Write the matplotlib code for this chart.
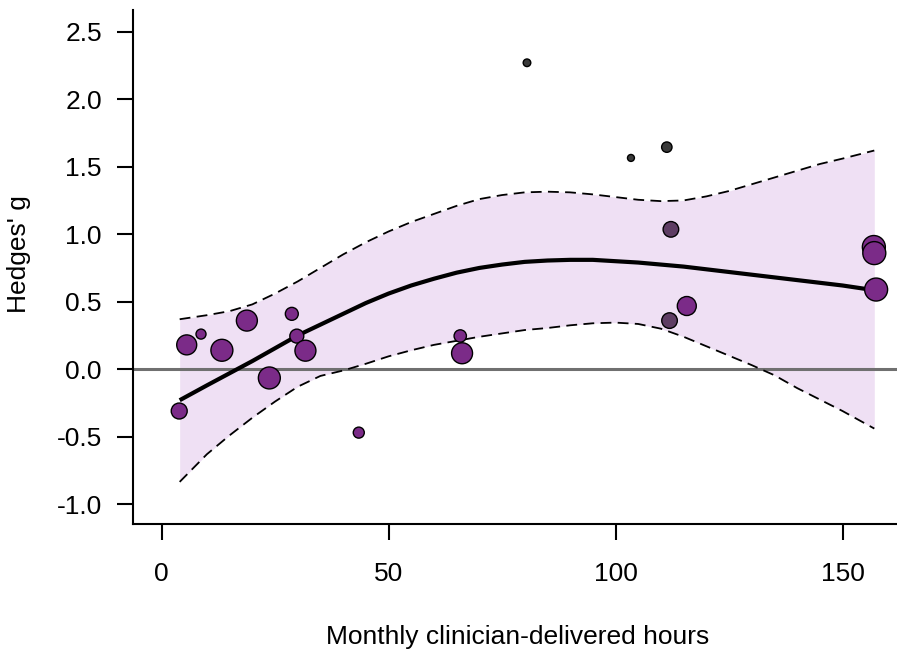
import matplotlib
matplotlib.use("Agg")
import matplotlib.pyplot as plt

plt.rcParams["font.family"] = ["Liberation Sans", "DejaVu Sans"]

# Study-level effects: dose (monthly hours), effect size and marker weight
hours = [3.9, 5.55, 8.7, 13.3, 18.8, 23.75, 28.7, 29.8, 31.7, 43.45,
         65.8, 66.2, 80.5, 103.4, 111.3, 112.2, 111.9, 115.7, 156.9, 157.0, 157.4]
hedges_g = [-0.31, 0.18, 0.26, 0.14, 0.36, -0.065, 0.41, 0.245, 0.137, -0.47,
            0.246, 0.118, 2.27, 1.565, 1.645, 1.036, 0.36, 0.468, 0.905, 0.86, 0.59]
weights = [132, 207, 52, 250, 228, 250, 87, 101, 228, 63,
           79, 228, 30, 25, 56, 126, 126, 187, 274, 274, 274]
point_colors = ["#7b2b88"] * 12 + ["#3a3a3a", "#3a3a3a", "#3a3a3a",
                                  "#5e3d63", "#5e3d63", "#7b2b88",
                                  "#7b2b88", "#7b2b88", "#7b2b88"]

# Meta-regression fit and its confidence band
fit_x = [4, 10, 15, 20, 25, 30, 35, 40, 45, 50, 55, 60, 65, 70, 75, 80,
         85, 90, 95, 100, 105, 110, 115, 120, 125, 130, 135, 140, 145, 150, 157]
fit_y = [-0.23, -0.12, -0.03, 0.06, 0.155, 0.25, 0.33, 0.41, 0.49, 0.56,
         0.62, 0.67, 0.715, 0.75, 0.775, 0.795, 0.805, 0.81, 0.81, 0.80,
         0.79, 0.775, 0.76, 0.74, 0.72, 0.70, 0.68, 0.66, 0.64, 0.62, 0.585]
ci_upper = [0.37, 0.40, 0.43, 0.48, 0.56, 0.65, 0.75, 0.85, 0.94, 1.02,
            1.09, 1.15, 1.21, 1.26, 1.29, 1.31, 1.315, 1.31, 1.295, 1.275,
            1.255, 1.245, 1.25, 1.28, 1.32, 1.37, 1.42, 1.47, 1.52, 1.56, 1.62]
ci_lower = [-0.835, -0.63, -0.49, -0.36, -0.24, -0.13, -0.05, -0.01, 0.04, 0.095,
            0.14, 0.18, 0.21, 0.24, 0.265, 0.29, 0.305, 0.325, 0.34, 0.345,
            0.335, 0.30, 0.24, 0.17, 0.10, 0.03, -0.045, -0.14, -0.225, -0.31, -0.44]

fig = plt.figure(figsize=(8.97, 6.52), dpi=100)
ax = fig.add_axes([133 / 897, 128 / 652, 764 / 897, 514 / 652])

ax.fill_between(fit_x, ci_lower, ci_upper, color="#efe0f4", lw=0, zorder=1)
ax.axhline(0, color="#707070", lw=2.2, zorder=2)
ax.plot(fit_x, ci_upper, color="black", lw=1.3, ls=(0, (6, 3.5)), zorder=3)
ax.plot(fit_x, ci_lower, color="black", lw=1.3, ls=(0, (6, 3.5)), zorder=3)
ax.plot(fit_x, fit_y, color="black", lw=3, solid_capstyle="butt",
        solid_joinstyle="round", zorder=4)
ax.scatter(hours, hedges_g, s=weights, c=point_colors, edgecolors="black",
           linewidths=1.0, zorder=5)

ax.set_xlim(-6.28, 162.0)
ax.set_ylim(-1.147, 2.661)
ax.set_xticks([0, 50, 100, 150])
ax.set_yticks([-1.0, -0.5, 0.0, 0.5, 1.0, 1.5, 2.0, 2.5])
ax.set_yticklabels(["-1.0", "-0.5", "0.0", "0.5", "1.0", "1.5", "2.0", "2.5"])

for side in ["top", "right"]:
    ax.spines[side].set_visible(False)
for side in ["left", "bottom"]:
    ax.spines[side].set_linewidth(1.5)

ax.tick_params(axis="both", direction="out", length=11.5, width=1.5,
               labelsize=19, colors="black")
ax.tick_params(axis="x", pad=16)
ax.tick_params(axis="y", pad=11)

fig.text(19 / 897, 1 - 254 / 652, "Hedges' g", rotation=90,
         ha="center", va="center", fontsize=19)
fig.text(518 / 897, 1 - 637 / 652, "Monthly clinician-delivered hours",
         ha="center", va="center", fontsize=19)

fig.savefig("out.png", dpi=100)
